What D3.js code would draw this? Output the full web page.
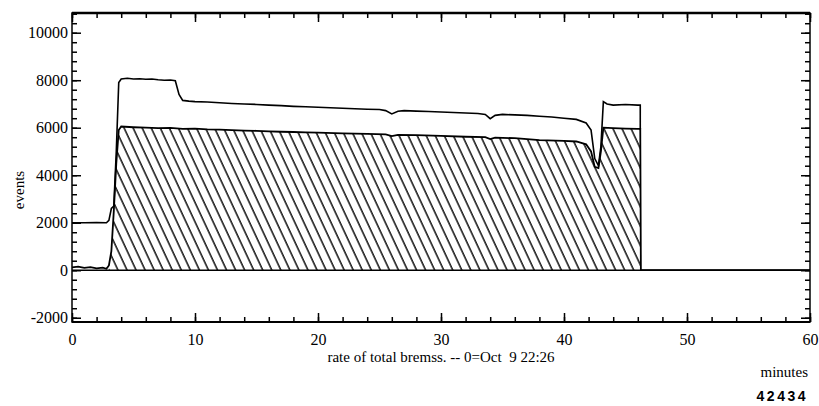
<!DOCTYPE html>
<html>
<head>
<meta charset="utf-8">
<script src="https://cdn.jsdelivr.net/npm/d3@7"></script>
<style>
  body { margin: 0; background: #fff; }
  svg { display: block; }
  text { font-family: "Liberation Serif", "DejaVu Serif", serif; fill: #000; }
</style>
</head>
<body>
<svg id="chart" width="819" height="406"></svg>
<script>
// time in minutes, top curve (total rate)
var upperT = [0, 1, 2, 2.8, 3.0, 3.2, 3.4, 3.6, 3.8, 4.0, 4.5, 5, 5.5, 6, 6.5, 7, 7.5, 8, 8.4, 8.7, 9, 9.5,
    10, 11, 12, 13, 14, 15, 16, 17, 18, 19, 20, 21, 22, 23, 24, 25, 25.5, 26, 26.5, 27, 28, 29, 30,
    31, 32, 33, 33.6, 34, 34.4, 35, 36, 37, 38, 39, 40, 41, 41.8, 42.2, 42.5, 42.8, 43.0, 43.2, 43.5,
    44, 45, 46, 46.2];
var upperV = [2000, 2000, 2010, 2000, 2100, 2600, 2700, 5000, 7900, 8050, 8080, 8050, 8060, 8040, 8050, 8020, 8000, 8010, 7980, 7400, 7150, 7120,
    7100, 7080, 7050, 7020, 7000, 6980, 6950, 6930, 6900, 6880, 6860, 6840, 6820, 6800, 6780, 6770, 6720, 6580, 6690, 6720, 6700, 6680, 6660,
    6640, 6620, 6600, 6560, 6380, 6520, 6560, 6540, 6520, 6480, 6450, 6400, 6350, 6200, 5900, 4700, 4400, 5200, 7100, 7000,
    6950, 6980, 6950, 6950];

// bottom curve (hatched area)
var lowerT = [0, 0.5, 1, 1.5, 2, 2.5, 2.8, 3.0, 3.2, 3.4, 3.6, 3.8, 4.0, 5, 6, 7, 8, 9, 10, 11, 12, 13, 14, 15, 16, 17, 18, 19, 20,
    22, 24, 25.5, 26, 26.5, 28, 30, 32, 33.6, 34, 34.4, 36, 38, 40, 41, 41.8, 42.2, 42.5, 42.8, 43.0, 43.2, 44, 45, 46, 46.2, 46.25, 50, 60];
var lowerV = [120, 150, 100, 130, 80, 110, 60, 200, 800, 2500, 4500, 5900, 6050, 6020, 6000, 5980, 5990, 5950, 5960, 5930, 5920, 5900, 5880, 5870, 5850, 5830, 5820, 5800, 5790,
    5760, 5740, 5720, 5650, 5700, 5690, 5660, 5620, 5600, 5520, 5580, 5560, 5480, 5450, 5420, 5300, 5000, 4350, 4300, 5000, 6000, 5980, 5960, 5950, 5950, 0, 0, 0];

var xTicks = [0, 10, 20, 30, 40, 50, 60];
var yTicks = [-2000, 0, 2000, 4000, 6000, 8000, 10000];
var xLabel = "rate of total bremss. -- 0=Oct\u00a0\u00a09 22:26";
var yLabel = "events";

var svg = d3.select('#chart');
var mLeft = 72, mRight = 810, mTop = 13, mBottom = 322;

var x = d3.scaleLinear().domain([0, 60]).range([mLeft, mRight]);
var y = d3.scaleLinear().domain([-2180, 10830]).range([mBottom, mTop]);

var upper = upperT.map(function (t, i) { return [t, upperV[i]]; });
var lower = lowerT.map(function (t, i) { return [t, lowerV[i]]; });

// hatch pattern
var defs = svg.append('defs');
var pat = defs.append('pattern')
    .attr('id', 'hatch')
    .attr('patternUnits', 'userSpaceOnUse')
    .attr('width', 8.2).attr('height', 8.2)
    .attr('patternTransform', 'rotate(-25)');
pat.append('line')
    .attr('x1', 1).attr('y1', 0).attr('x2', 1).attr('y2', 8.2)
    .attr('stroke', '#000').attr('stroke-width', 1.4);

var hatched = lower.filter(function (d) { return d[0] >= 3.0 && d[0] <= 46.2; });
var area = d3.area()
    .x(function (d) { return x(d[0]); })
    .y0(y(0))
    .y1(function (d) { return y(d[1]); });
svg.append('path')
    .datum(hatched)
    .attr('d', area)
    .attr('fill', 'url(#hatch)');

var line = d3.line()
    .x(function (d) { return x(d[0]); })
    .y(function (d) { return y(d[1]); });

// zero line
svg.append('line')
    .attr('x1', x(0)).attr('x2', x(60))
    .attr('y1', y(0)).attr('y2', y(0))
    .attr('stroke', '#000').attr('stroke-width', 1.5);

// upper curve closes down onto the lower curve at the end
var upperPath = upper.concat([[46.2, 5950]]);
svg.append('path')
    .datum(upperPath)
    .attr('d', line)
    .attr('fill', 'none').attr('stroke', '#000').attr('stroke-width', 1.6);

svg.append('path')
    .datum(lower)
    .attr('d', line)
    .attr('fill', 'none').attr('stroke', '#000').attr('stroke-width', 1.8);

// axes with ticks drawn inwards
function styleAxis(g) {
    g.select('.domain').remove();
    g.selectAll('line').attr('stroke', '#000').attr('stroke-width', 1.5);
    g.selectAll('text').attr('font-size', 16).attr('font-family', '"Liberation Serif", serif');
}

var xMinor = d3.range(0, 61, 2);
var yMinor = d3.range(-2000, 10801, 400);
var plain = function (d) { return String(d); };

svg.append('g').attr('transform', 'translate(0,' + mBottom + ')')
    .call(d3.axisBottom(x).tickValues(xTicks).tickSize(-9).tickPadding(12).tickFormat(plain))
    .call(styleAxis);
svg.append('g').attr('transform', 'translate(0,' + mBottom + ')')
    .call(d3.axisBottom(x).tickValues(xMinor).tickSize(-5).tickFormat(''))
    .call(styleAxis);
svg.append('g').attr('transform', 'translate(0,' + mTop + ')')
    .call(d3.axisTop(x).tickValues(xTicks).tickSize(-9).tickFormat(''))
    .call(styleAxis);
svg.append('g').attr('transform', 'translate(0,' + mTop + ')')
    .call(d3.axisTop(x).tickValues(xMinor).tickSize(-5).tickFormat(''))
    .call(styleAxis);

svg.append('g').attr('transform', 'translate(' + mLeft + ',0)')
    .call(d3.axisLeft(y).tickValues(yTicks).tickSize(-9).tickPadding(4).tickFormat(plain))
    .call(styleAxis);
svg.append('g').attr('transform', 'translate(' + mLeft + ',0)')
    .call(d3.axisLeft(y).tickValues(yMinor).tickSize(-5).tickFormat(''))
    .call(styleAxis);
svg.append('g').attr('transform', 'translate(' + mRight + ',0)')
    .call(d3.axisRight(y).tickValues(yTicks).tickSize(-9).tickFormat(''))
    .call(styleAxis);
svg.append('g').attr('transform', 'translate(' + mRight + ',0)')
    .call(d3.axisRight(y).tickValues(yMinor).tickSize(-5).tickFormat(''))
    .call(styleAxis);

// frame
svg.append('rect')
    .attr('x', mLeft).attr('y', mTop)
    .attr('width', mRight - mLeft).attr('height', mBottom - mTop)
    .attr('fill', 'none').attr('stroke', '#000').attr('stroke-width', 1.5);
svg.append('line')
    .attr('x1', mLeft).attr('x2', mRight).attr('y1', mTop).attr('y2', mTop)
    .attr('stroke', '#000').attr('stroke-width', 2.5);
svg.append('line')
    .attr('x1', mLeft).attr('x2', mRight).attr('y1', mBottom).attr('y2', mBottom)
    .attr('stroke', '#000').attr('stroke-width', 2.2);

// labels
svg.append('text')
    .attr('x', 441).attr('y', 362)
    .attr('text-anchor', 'middle').attr('font-size', 15)
    .text(xLabel);
svg.append('text')
    .attr('x', 808).attr('y', 377)
    .attr('text-anchor', 'end').attr('font-size', 15)
    .text('minutes');
svg.append('text')
    .attr('transform', 'translate(24,190) rotate(-90)')
    .attr('text-anchor', 'middle').attr('font-size', 15)
    .text(yLabel);
svg.append('text')
    .attr('x', 808).attr('y', 401)
    .attr('text-anchor', 'end')
    .attr('font-size', 14).attr('font-weight', 'bold')
    .attr('letter-spacing', 2.5)
    .style('font-family', 'Arial, "Liberation Sans", sans-serif')
    .text('42434');
</script>
</body>
</html>
